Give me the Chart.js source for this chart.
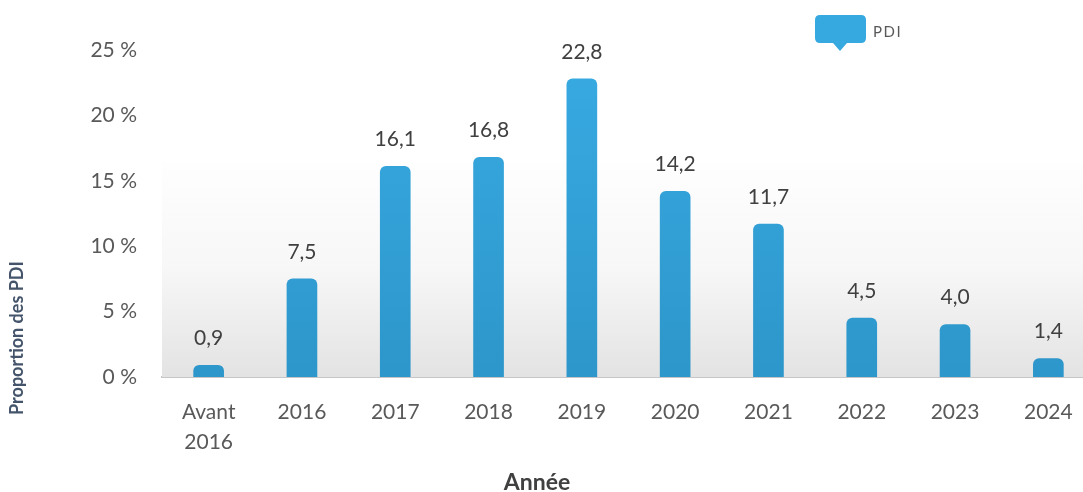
<!DOCTYPE html>
<html>
<head>
<meta charset="utf-8">
<script src="https://cdn.jsdelivr.net/npm/chart.js@4"></script>
<style>
  html, body { margin: 0; padding: 0; background: #fff; overflow: hidden; }
  #wrap { width: 1100px; height: 492px; }
</style>
</head>
<body>
<div id="wrap"><canvas id="chart" width="1100" height="492"></canvas></div>
<script>
const categories = [["Avant", "2016"], "2016", "2017", "2018", "2019", "2020", "2021", "2022", "2023", "2024"];
const pdiValues = [0.9, 7.5, 16.1, 16.8, 22.8, 14.2, 11.7, 4.5, 4.0, 1.4];
const yTicks = [0, 5, 10, 15, 20, 25];
const seriesLabel = "PDI";
const xTitle = "Année";
const yTitle = "Proportion des PDI";

const FONT = "Lato, 'Open Sans', sans-serif";

const decor = {
    id: "decor",
    beforeDatasetsDraw(chart) {
        const { ctx, chartArea } = chart;
        const top = chart.scales.y.getPixelForValue(16.4);
        const g = ctx.createLinearGradient(0, top, 0, chartArea.bottom);
        g.addColorStop(0, "#fefefe");
        g.addColorStop(0.5, "#f7f7f7");
        g.addColorStop(1, "#e3e3e3");
        ctx.save();
        ctx.fillStyle = g;
        ctx.fillRect(chartArea.left, top, chartArea.right - chartArea.left, chartArea.bottom - top);
        ctx.restore();
    },
    afterDatasetsDraw(chart) {
        const { ctx } = chart;
        const meta = chart.getDatasetMeta(0);
        ctx.save();
        ctx.font = "21px " + FONT;
        ctx.fillStyle = "#404040";
        ctx.textAlign = "center";
        ctx.textBaseline = "middle";
        meta.data.forEach((bar, i) => {
            ctx.fillText(pdiValues[i].toFixed(1).replace(".", ","), bar.x, bar.y - 27);
        });
        ctx.restore();
    },
    afterDraw(chart) {
        const { ctx } = chart;
        ctx.save();
        // axis titles
        ctx.fillStyle = "#404040";
        ctx.font = "bold 23px " + FONT;
        ctx.textAlign = "center";
        ctx.textBaseline = "middle";
        ctx.fillText(xTitle, 537, 483);
        ctx.translate(17, 338);
        ctx.rotate(-Math.PI / 2);
        ctx.fillStyle = "#44546a";
        ctx.font = "bold 18px " + FONT;
        ctx.fillText(yTitle, 0, 0);
        ctx.restore();

        // legend: speech bubble
        ctx.save();
        ctx.fillStyle = "#36a9e1";
        const x = 815, y = 15, w = 51, h = 28, r = 5;
        ctx.beginPath();
        ctx.moveTo(x + r, y);
        ctx.lineTo(x + w - r, y);
        ctx.quadraticCurveTo(x + w, y, x + w, y + r);
        ctx.lineTo(x + w, y + h - r);
        ctx.quadraticCurveTo(x + w, y + h, x + w - r, y + h);
        ctx.lineTo(x + 32, y + h);
        ctx.lineTo(x + 25, y + h + 8);
        ctx.lineTo(x + 18, y + h);
        ctx.lineTo(x + r, y + h);
        ctx.quadraticCurveTo(x, y + h, x, y + h - r);
        ctx.lineTo(x, y + r);
        ctx.quadraticCurveTo(x, y, x + r, y);
        ctx.closePath();
        ctx.fill();
        ctx.fillStyle = "#595959";
        ctx.font = "15px " + FONT;
        ctx.letterSpacing = "1.5px";
        ctx.textAlign = "left";
        ctx.textBaseline = "middle";
        ctx.fillText(seriesLabel, 873, 32);
        ctx.restore();
    }
};

new Chart(document.getElementById("chart"), {
    type: "bar",
    data: {
        labels: categories,
        datasets: [{
            label: seriesLabel,
            data: pdiValues,
            barThickness: 30,
            borderRadius: { topLeft: 6, topRight: 6 },
            borderSkipped: "bottom",
            backgroundColor: ctx => {
                const area = ctx.chart.chartArea;
                if (!area) return "#34a5dd";
                const g = ctx.chart.ctx.createLinearGradient(0, area.top, 0, area.bottom);
                g.addColorStop(0, "#38abe3");
                g.addColorStop(1, "#2d96ca");
                return g;
            }
        }]
    },
    options: {
        responsive: false,
        animation: false,
        layout: { padding: { top: 50, right: 5, left: 0, bottom: 0 } },
        plugins: { legend: { display: false }, tooltip: { enabled: false } },
        scales: {
            x: {
                grid: { display: false, drawTicks: false },
                border: { display: true, color: "#c6c6c6", width: 2 },
                ticks: { color: "#595959", font: { size: 21, family: FONT, lineHeight: 1.43 }, padding: 20, maxRotation: 0, autoSkip: false },
                afterFit: s => { s.height = 115; }
            },
            y: {
                min: 0,
                max: 25,
                grid: { display: false, drawTicks: false },
                border: { display: false },
                afterBuildTicks: s => { s.ticks = yTicks.map(v => ({ value: v })); },
                ticks: { color: "#595959", font: { size: 21, family: FONT }, padding: 25, callback: v => v + " %" },
                afterFit: s => { s.width = 162; }
            }
        }
    },
    plugins: [decor]
});
</script>
</body>
</html>
